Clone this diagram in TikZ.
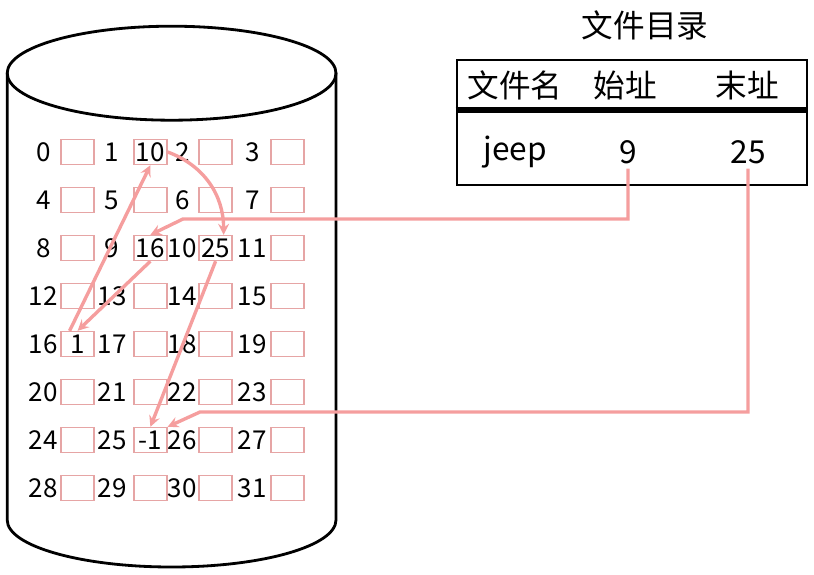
\documentclass[tikz,border=0pt]{standalone}
\usepackage{fontspec}
\setmainfont{Noto Sans CJK SC}
\usepackage{tikz}
\usetikzlibrary{arrows,positioning}
\definecolor{rosa}{RGB}{230,165,165}
\definecolor{salmone}{RGB}{245,158,158}
\newcommand{\grande}{\fontsize{18.5}{21}\selectfont}
\newcommand{\enorme}{\fontsize{22.5}{26}\selectfont}
\tikzstyle{casella} = [rectangle,draw=rosa,line width=1pt,minimum width=0.825cm,minimum height=0.625cm,inner sep=0pt,text=black]
\tikzstyle{voce} = [font=\enorme]
\tikzstyle{freccia} = [salmone,line width=2.4pt,->,>=stealth]
\tikzset{numero/.style={anchor=center,xshift=-#1}}

\begin{document}
\begin{tikzpicture}
\tikzstyle{every node}=[font=\grande]
\useasboundingbox (0,0) rectangle (20.35,-14.375);

% disco
\draw[line width=2pt] (4.29,-1.83) ellipse (4.11cm and 1.175cm);
\draw[line width=2pt] (0.18,-1.83) -- (0.18,-13.0) arc (180:360:4.11cm and 1.175cm) -- (8.40,-1.83);

% blocchi, 1.2cm per riga
\node (b0)  [casella,xshift=1.94cm,yshift=-3.8cm,label={[numero=0.425cm]180:0}] {};
\node (b1)  [casella,right of=b0,xshift=0.82cm,label={[numero=0.525cm]180:1}] {10};
\node (b2)  [casella,right of=b1,xshift=0.63cm,label={[numero=0.4cm]180:2}] {};
\node (b3)  [casella,right of=b2,xshift=0.8cm,label={[numero=0.45cm]180:3}] {};

\node (b4)  [casella,below of=b0,yshift=-0.2cm,label={[numero=0.425cm]180:4}] {};
\node (b5)  [casella,below of=b1,yshift=-0.2cm,label={[numero=0.525cm]180:5}] {};
\node (b6)  [casella,below of=b2,yshift=-0.2cm,label={[numero=0.4cm]180:6}] {};
\node (b7)  [casella,below of=b3,yshift=-0.2cm,label={[numero=0.45cm]180:7}] {};

\node (b8)  [casella,below of=b4,yshift=-0.2cm,label={[numero=0.425cm]180:8}] {};
\node (b9)  [casella,below of=b5,yshift=-0.2cm,label={[numero=0.525cm]180:9}] {16};
\node (b10) [casella,below of=b6,yshift=-0.2cm,label={[numero=0.4cm]180:10}] {25};
\node (b11) [casella,below of=b7,yshift=-0.2cm,label={[numero=0.45cm]180:11}] {};

\node (b12) [casella,below of=b8,yshift=-0.2cm,label={[numero=0.425cm]180:12}] {};
\node (b13) [casella,below of=b9,yshift=-0.2cm,label={[numero=0.525cm]180:13}] {};
\node (b14) [casella,below of=b10,yshift=-0.2cm,label={[numero=0.4cm]180:14}] {};
\node (b15) [casella,below of=b11,yshift=-0.2cm,label={[numero=0.45cm]180:15}] {};

\node (b16) [casella,below of=b12,yshift=-0.2cm,label={[numero=0.425cm]180:16}] {1};
\node (b17) [casella,below of=b13,yshift=-0.2cm,label={[numero=0.525cm]180:17}] {};
\node (b18) [casella,below of=b14,yshift=-0.2cm,label={[numero=0.4cm]180:18}] {};
\node (b19) [casella,below of=b15,yshift=-0.2cm,label={[numero=0.45cm]180:19}] {};

\node (b20) [casella,below of=b16,yshift=-0.2cm,label={[numero=0.425cm]180:20}] {};
\node (b21) [casella,below of=b17,yshift=-0.2cm,label={[numero=0.525cm]180:21}] {};
\node (b22) [casella,below of=b18,yshift=-0.2cm,label={[numero=0.4cm]180:22}] {};
\node (b23) [casella,below of=b19,yshift=-0.2cm,label={[numero=0.45cm]180:23}] {};

\node (b24) [casella,below of=b20,yshift=-0.2cm,label={[numero=0.425cm]180:24}] {};
\node (b25) [casella,below of=b21,yshift=-0.2cm,label={[numero=0.525cm]180:25}] {-1};
\node (b26) [casella,below of=b22,yshift=-0.2cm,label={[numero=0.4cm]180:26}] {};
\node (b27) [casella,below of=b23,yshift=-0.2cm,label={[numero=0.45cm]180:27}] {};

\node (b28) [casella,below of=b24,yshift=-0.2cm,label={[numero=0.425cm]180:28}] {};
\node (b29) [casella,below of=b25,yshift=-0.2cm,label={[numero=0.525cm]180:29}] {};
\node (b30) [casella,below of=b26,yshift=-0.2cm,label={[numero=0.4cm]180:30}] {};
\node (b31) [casella,below of=b27,yshift=-0.2cm,label={[numero=0.45cm]180:31}] {};

% directory
\node (titolo) [voce,xshift=16.125cm,yshift=-0.625cm] {文件目录};
\node (tabella) [rectangle,draw,line width=2pt,minimum width=8.75cm,minimum height=3.125cm,xshift=15.8cm,yshift=-3.0625cm] {};
\draw[line width=4.3pt] ([yshift=-1.275cm]tabella.north west) -- ([yshift=-1.275cm]tabella.north east);

\node (nome)    [voce,xshift=12.875cm,yshift=-2.125cm] {文件名};
\node (inizioT) [voce,xshift=15.625cm,yshift=-2.125cm] {始址};
\node (fineT)   [voce,xshift=18.675cm,yshift=-2.125cm] {末址};

\node (jeep)   [voce,xshift=12.875cm,yshift=-3.8cm] {jeep};
\node (inizio) [voce,xshift=15.7cm,yshift=-3.8cm] {9};
\node (fine)   [voce,xshift=18.7cm,yshift=-3.8cm] {25};

\coordinate (gomito1) at (4.575,-5.475);
\coordinate (gomito2) at (5.0,-10.3);

\draw[freccia] (inizio.south) |- (gomito1) -- (b9.north);
\draw[freccia] (b9.south) -- (b16.north);
\draw[freccia] ([xshift=-0.2cm]b16.north) -- (b1.south);
\draw[freccia] (b1.east) to[out=-20,in=90] ([xshift=0.2cm]b10.north);
\draw[freccia] (b10.south) -- (b25.north);
\draw[freccia] (fine.south) |- (gomito2) -- (b25.north east);
\end{tikzpicture}
\end{document}
